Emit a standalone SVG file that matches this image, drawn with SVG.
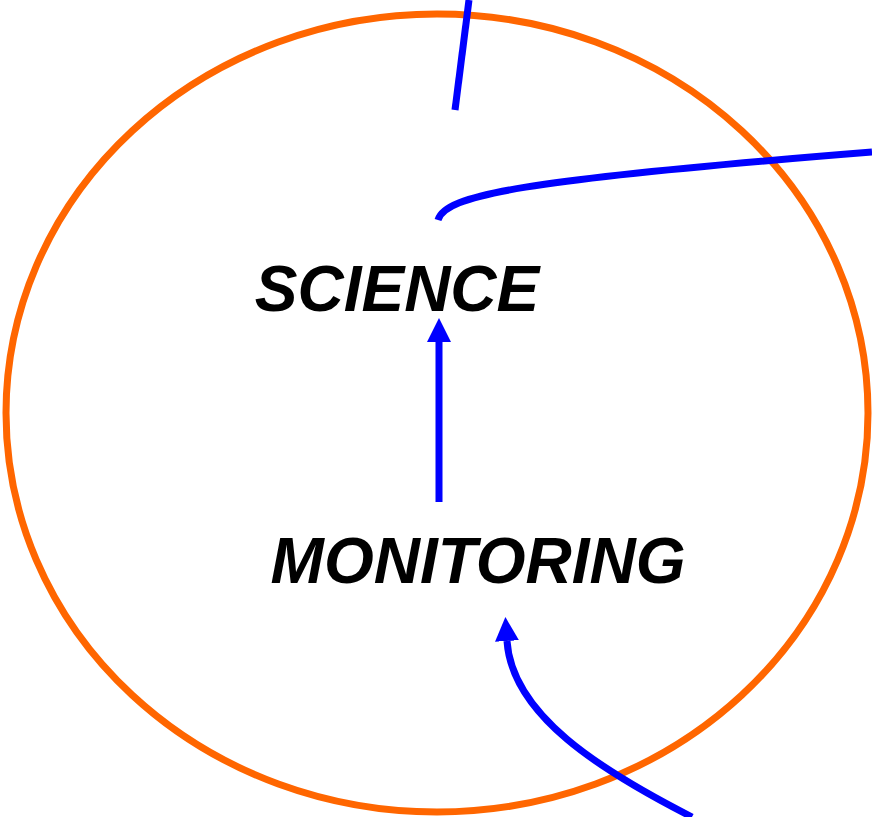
<svg xmlns="http://www.w3.org/2000/svg" width="872" height="817" viewBox="0 0 872 817">
<style>
.lbl{font-family:"Liberation Sans",Arial,sans-serif;font-weight:bold;font-style:italic;font-size:64px;fill:#000}
.c{fill:none;stroke:#0000FF;stroke-width:7}
</style>
<defs>
<marker id="ah" markerUnits="userSpaceOnUse" markerWidth="24" markerHeight="24" refX="0" refY="12" orient="auto" viewBox="0 0 24 24">
<path d="M0,0 L24,12 L0,24 Z" fill="#0000FF"/>
</marker>
</defs>
<rect width="872" height="817" fill="#fff"/>
<g id="boundary">
<ellipse cx="437" cy="413" rx="431" ry="399" fill="none" stroke="#FF6600" stroke-width="7"/>
</g>
<g id="connectors">
<path class="c" d="M469,0 L455,110"/>
<path class="c" d="M438,220 C445,195 520,180 872,152"/>
<path class="c" d="M439,502 L439,342" marker-end="url(#ah)"/>
<path class="c" d="M692,817 C600,770 512,715 507,641" marker-end="url(#ah)"/>
</g>
<g id="science"><text class="lbl" x="397" y="311" text-anchor="middle">SCIENCE</text></g>
<g id="monitoring"><text class="lbl" x="478" y="583" text-anchor="middle">MONITORING</text></g>
</svg>
